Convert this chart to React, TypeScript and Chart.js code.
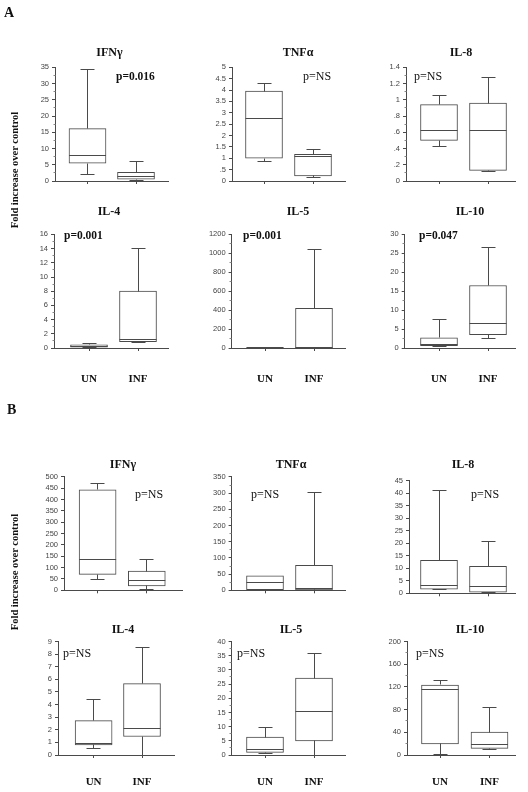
import React, { useEffect, useRef } from "react";
import { Chart, registerables } from "chart.js";

Chart.register(...registerables);

// ---------- data ----------
const GROUPS = ["UN", "INF"];
const TITLES = ["IFNγ", "TNFα", "IL-8", "IL-4", "IL-5", "IL-10"];

// [min, q1, median, q3, max]
// Panel A
const A_IFNG_UN = [2.1, 5.5, 8.0, 16.1, 34.3];
const A_IFNG_INF = [0.3, 0.6, 1.5, 2.7, 6.1];
const A_TNFA_UN = [0.87, 1.0, 2.75, 3.95, 4.3];
const A_TNFA_INF = [0.15, 0.22, 1.07, 1.17, 1.38];
const A_IL8_UN = [0.42, 0.5, 0.62, 0.94, 1.05];
const A_IL8_INF = [0.12, 0.13, 0.62, 0.96, 1.27];
const A_IL4_UN = [0.05, 0.12, 0.25, 0.45, 0.62];
const A_IL4_INF = [0.8, 0.9, 1.2, 8.0, 14.0];
const A_IL5_UN = [0.2, 0.4, 0.7, 1.0, 1.3];
const A_IL5_INF = [1, 3, 8, 420, 1037];
const A_IL10_UN = [0.3, 0.6, 0.9, 2.7, 7.5];
const A_IL10_INF = [2.5, 3.5, 6.6, 16.5, 26.6];
// Panel B
const B_IFNG_UN = [49, 70, 138, 443, 470];
const B_IFNG_INF = [2, 19, 45, 85, 138];
const B_TNFA_UN = [1, 2, 23, 45, 45];
const B_TNFA_INF = [0.5, 1, 5, 77, 303];
const B_IL8_UN = [1.5, 1.7, 3.2, 13.2, 40.9];
const B_IL8_INF = [0.2, 0.5, 2.7, 10.8, 20.8];
const B_IL4_UN = [0.53, 0.8, 0.93, 2.72, 4.4];
const B_IL4_INF = [0, 1.47, 2.08, 5.66, 8.49];
const B_IL5_UN = [0.5, 0.9, 2.1, 6.3, 9.7];
const B_IL5_INF = [0, 5.0, 15.4, 27.1, 35.6];
const B_IL10_UN = [0.5, 19.6, 115, 123.4, 131.7];
const B_IL10_INF = [8.9, 11.8, 18.9, 40.3, 84.2];

const P_A = ["p=0.016", "p=NS", "p=NS", "p=0.001", "p=0.001", "p=0.047"];
const P_B = ["p=NS", "p=NS", "p=NS", "p=NS", "p=NS", "p=NS"];

const YMAX_A = [35, 5, 1.4, 16, 1200, 30];
const YSTEP_A = [5, 0.5, 0.2, 2, 200, 5];
const MINOR_A = [2.5, 0, 0.1, 1, 100, 2.5];
const YMAX_B = [500, 350, 45, 9, 40, 200];
const YSTEP_B = [50, 50, 5, 1, 5, 40];
const MINOR_B = [0, 25, 0, 0, 2.5, 20];

const DATA_A = [
  [A_IFNG_UN, A_IFNG_INF],
  [A_TNFA_UN, A_TNFA_INF],
  [A_IL8_UN, A_IL8_INF],
  [A_IL4_UN, A_IL4_INF],
  [A_IL5_UN, A_IL5_INF],
  [A_IL10_UN, A_IL10_INF],
];
const DATA_B = [
  [B_IFNG_UN, B_IFNG_INF],
  [B_TNFA_UN, B_TNFA_INF],
  [B_IL8_UN, B_IL8_INF],
  [B_IL4_UN, B_IL4_INF],
  [B_IL5_UN, B_IL5_INF],
  [B_IL10_UN, B_IL10_INF],
];

// ---------- layout (page pixels) ----------
type Lay = {
  axisX: number; right: number; unX: number; infX: number;
  top: number; bottom: number; titleX: number; titleY: number;
  pX: number; pY: number; labelY?: number;
};
const LAYOUT_A: Lay[] = [
  { axisX: 55, right: 168, unX: 87.5, infX: 136, top: 67.3, bottom: 181, titleX: 109.5, titleY: 52.5, pX: 116, pY: 77 },
  { axisX: 232, right: 345, unX: 264, infX: 313, top: 67.3, bottom: 181, titleX: 298, titleY: 52.5, pX: 303, pY: 77 },
  { axisX: 406, right: 515, unX: 439, infX: 488, top: 67.3, bottom: 181, titleX: 461, titleY: 52.5, pX: 414, pY: 77 },
  { axisX: 54, right: 168, unX: 89, infX: 138, top: 234.4, bottom: 348, titleX: 109, titleY: 212, pX: 64, pY: 236.5, labelY: 379 },
  { axisX: 231.6, right: 345, unX: 265, infX: 314, top: 234.4, bottom: 348, titleX: 298, titleY: 212, pX: 243, pY: 236.5, labelY: 379 },
  { axisX: 404.7, right: 515, unX: 439, infX: 488, top: 234.4, bottom: 348, titleX: 470, titleY: 212, pX: 419, pY: 236.5, labelY: 379 },
];
const LAYOUT_B: Lay[] = [
  { axisX: 64, right: 182, unX: 97.6, infX: 146.8, top: 476.9, bottom: 590.3, titleX: 123, titleY: 464.7, pX: 135, pY: 495 },
  { axisX: 231.6, right: 345, unX: 265, infX: 314, top: 476.9, bottom: 590.3, titleX: 291, titleY: 464.7, pX: 251, pY: 495 },
  { axisX: 409, right: 515, unX: 439, infX: 488, top: 480.7, bottom: 593.3, titleX: 463, titleY: 464.7, pX: 471, pY: 495 },
  { axisX: 58, right: 174, unX: 93.6, infX: 142, top: 641.5, bottom: 755, titleX: 123, titleY: 629.7, pX: 63, pY: 654, labelY: 782 },
  { axisX: 231.6, right: 345, unX: 265, infX: 314, top: 641.5, bottom: 755, titleX: 291, titleY: 629.7, pX: 237, pY: 654, labelY: 782 },
  { axisX: 407, right: 515, unX: 440, infX: 489.5, top: 641.5, bottom: 755, titleX: 470, titleY: 629.7, pX: 416, pY: 654, labelY: 782 },
];

const W = 528;
const H = 792;
const Y_W = 40;
const X_H = 35;
const LINE = "#4a4a4a";
const SERIF = '"Liberation Serif", "Times New Roman", Times, serif';
const SANS = '"Liberation Sans", Arial, sans-serif';
const CAP = 7;
const BOX_W = 37;

type Spec = {
  title: string; groups: number[][]; p: string; yMax: number; yStep: number;
  minor: number; lay: Lay;
};

const SPECS: Spec[] = [
  ...DATA_A.map((g, i) => ({ title: TITLES[i], groups: g, p: P_A[i], yMax: YMAX_A[i], yStep: YSTEP_A[i], minor: MINOR_A[i], lay: LAYOUT_A[i] })),
  ...DATA_B.map((g, i) => ({ title: TITLES[i], groups: g, p: P_B[i], yMax: YMAX_B[i], yStep: YSTEP_B[i], minor: MINOR_B[i], lay: LAYOUT_B[i] })),
];

const fmt = (v: number) => {
  const s = String(Math.round(v * 1000) / 1000);
  return s.startsWith("0.") ? s.slice(1) : s;
};

const crisp = (v: number) => Math.round(v - 0.5) + 0.5;

function makePlugin(spec: Spec) {
  return {
    id: "boxExtras",
    afterDatasetsDraw(chart: any) {
      const { ctx } = chart;
      const ys = chart.scales.y;
      const meta = chart.getDatasetMeta(0);
      ctx.save();
      ctx.strokeStyle = LINE;
      ctx.lineWidth = 1;
      spec.groups.forEach((st, i) => {
        const el = meta.data[i];
        const { x: cx, width } = el.getProps(["x", "width"], true);
        const half = width / 2;
        const px = crisp(cx);
        const yMin = crisp(ys.getPixelForValue(st[0]));
        const yQ1 = crisp(ys.getPixelForValue(st[1]));
        const yMed = crisp(ys.getPixelForValue(st[2]));
        const yQ3 = crisp(ys.getPixelForValue(st[3]));
        const yMax = crisp(ys.getPixelForValue(st[4]));
        ctx.beginPath();
        if (st[4] > st[3]) {
          ctx.moveTo(px, yQ3);
          ctx.lineTo(px, yMax);
          ctx.moveTo(px - CAP, yMax);
          ctx.lineTo(px + CAP, yMax);
        }
        if (st[0] < st[1]) {
          ctx.moveTo(px, yQ1);
          ctx.lineTo(px, yMin);
          ctx.moveTo(px - CAP, yMin);
          ctx.lineTo(px + CAP, yMin);
        }
        ctx.moveTo(cx - half, yMed);
        ctx.lineTo(cx + half, yMed);
        ctx.stroke();
      });
      // minor ticks
      if (spec.minor > 0) {
        const ax = crisp(chart.chartArea.left);
        ctx.strokeStyle = "#888";
        ctx.beginPath();
        for (let k = 1; k * spec.minor < spec.yMax - 1e-9; k++) {
          const v = k * spec.minor;
          const r = v / spec.yStep;
          if (Math.abs(r - Math.round(r)) < 1e-6) continue;
          const py = crisp(ys.getPixelForValue(v));
          ctx.moveTo(ax - 2, py);
          ctx.lineTo(ax, py);
        }
        ctx.stroke();
      }
      // title
      ctx.fillStyle = "#111";
      ctx.textBaseline = "middle";
      ctx.textAlign = "center";
      ctx.font = `bold 12px ${SERIF}`;
      ctx.fillText(spec.title, spec.lay.titleX, spec.lay.titleY);
      // p value
      const bold = spec.p !== "p=NS";
      ctx.textAlign = "left";
      ctx.font = bold ? `bold 11.5px ${SERIF}` : `12px ${SERIF}`;
      ctx.fillText(spec.p, spec.lay.pX, spec.lay.pY);
      ctx.restore();
    },
  };
}

function buildConfig(spec: Spec): any {
  const L = spec.lay;
  const unit = L.infX - L.unX;
  const xMin = -(L.unX - L.axisX) / unit;
  const xMax = 1 + (L.right - L.infX) / unit;
  const showX = L.labelY !== undefined;
  const xPad = showX ? (L.labelY as number) - L.bottom - 3 - 6.6 : 4;
  return {
    type: "bar",
    data: {
      datasets: [
        {
          data: spec.groups.map((st, i) => ({ x: i, y: [st[1], st[3]] })),
          backgroundColor: "#ffffff",
          borderColor: LINE,
          borderWidth: 1,
          borderSkipped: false,
          barThickness: BOX_W,
        },
      ],
    },
    options: {
      animation: false,
      responsive: false,
      devicePixelRatio: 1,
      events: [],
      layout: {
        padding: {
          left: L.axisX - Y_W,
          top: L.top,
          right: W - L.right,
          bottom: H - L.bottom - X_H,
        },
      },
      plugins: { legend: { display: false }, tooltip: { enabled: false }, title: { display: false } },
      scales: {
        x: {
          type: "linear",
          min: xMin,
          max: xMax,
          offset: false,
          grid: { display: true, offset: false, drawOnChartArea: false, drawTicks: true, tickLength: 3, color: LINE },
          border: { display: true, color: LINE },
          afterBuildTicks: (s: any) => {
            s.ticks = [{ value: 0 }, { value: 1 }];
          },
          afterFit: (s: any) => {
            s.height = X_H;
          },
          ticks: {
            autoSkip: false,
            maxRotation: 0,
            padding: xPad,
            color: "#111",
            font: { family: SERIF, weight: "bold", size: 11 },
            callback: (v: number) => (showX ? GROUPS[Math.round(v)] ?? "" : ""),
          },
        },
        y: {
          type: "linear",
          min: 0,
          max: spec.yMax,
          grid: { display: true, drawOnChartArea: false, drawTicks: true, tickLength: 3, color: LINE },
          border: { display: true, color: LINE },
          afterFit: (s: any) => {
            s.width = Y_W;
          },
          ticks: {
            stepSize: spec.yStep,
            autoSkip: false,
            padding: 3,
            color: "#444",
            font: { family: SANS, size: 7.5 },
            callback: (v: number) => fmt(v),
          },
        },
      },
    },
    plugins: [makePlugin(spec)],
  };
}

function BoxPanel({ spec }: { spec: Spec }) {
  const ref = useRef<HTMLCanvasElement>(null);
  useEffect(() => {
    const chart = new Chart(ref.current as HTMLCanvasElement, buildConfig(spec));
    return () => chart.destroy();
  }, [spec]);
  return (
    <canvas
      ref={ref}
      width={W}
      height={H}
      style={{ position: "absolute", left: 0, top: 0, width: W, height: H, pointerEvents: "none" }}
    />
  );
}

const labelStyle: React.CSSProperties = {
  position: "absolute",
  fontFamily: SERIF,
  fontWeight: "bold",
  color: "#111",
  lineHeight: 1,
  whiteSpace: "nowrap",
};

export default function App() {
  return (
    <div
      style={{
        position: "absolute",
        left: 0,
        top: 0,
        width: W,
        height: H,
        background: "#ffffff",
        overflow: "hidden",
      }}
    >
      {SPECS.map((s, i) => (
        <BoxPanel key={i} spec={s} />
      ))}
      <div style={{ ...labelStyle, left: 4, top: 5.5, fontSize: 14 }}>A</div>
      <div style={{ ...labelStyle, left: 7, top: 402.5, fontSize: 14 }}>B</div>
      <div
        style={{
          ...labelStyle,
          left: 15,
          top: 170,
          fontSize: 10.5,
          transform: "translate(-50%, -50%) rotate(-90deg)",
        }}
      >
        Fold increase over control
      </div>
      <div
        style={{
          ...labelStyle,
          left: 15,
          top: 572,
          fontSize: 10.5,
          transform: "translate(-50%, -50%) rotate(-90deg)",
        }}
      >
        Fold increase over control
      </div>
    </div>
  );
}
